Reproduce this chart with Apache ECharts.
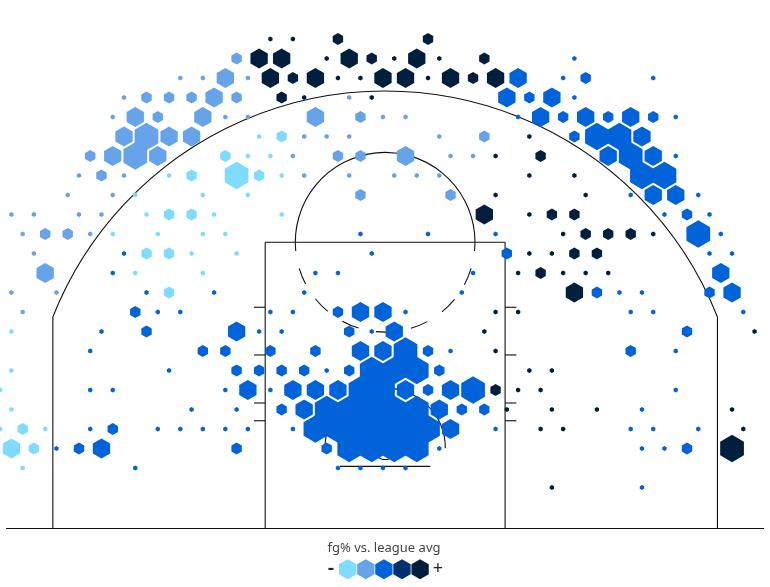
<!DOCTYPE html>
<html>
<head>
<meta charset="utf-8">
<style>
  html, body { margin: 0; padding: 0; background: #fff; }
  #chart { width: 770px; height: 587px; }
</style>
<script src="https://cdn.jsdelivr.net/npm/echarts@6/dist/echarts.min.js"></script>
</head>
<body>
<div id="chart"></div>
<script>
  // shot bins as [column, row, frequency level]; odd rows sit on even columns
  const fgCold = [
    [1,20,2],[-1,20,1],[3,20,1],[-1,18,1],[0,15,1],[0,17,1],[0,19,1],
    [0,21,3],[2,21,2],[1,22,1],
    [14,7,1],[16,7,2],[20,7,4],[22,7,2],[24,7,1],
    [19,6,2],[21,6,1],[23,6,1],
    [22,5,1],[24,5,2],
    [11,8,1],[17,8,1],[21,8,1],
    [12,9,1],[14,9,2],[16,9,2],[18,9,1],[24,9,1],
    [9,10,1],[13,10,1],[17,10,1],[19,10,1],
    [12,11,2],[14,11,2],[16,11,1],[20,11,1],
    [11,12,1],[17,12,1],[14,13,2]
  ];
  const fgBelow = [
    [20,1,2],
    [15,2,1],[17,2,1],[19,2,3],[21,2,1],
    [10,3,1],[12,3,2],[14,3,2],[16,3,2],[18,3,3],[20,3,2],[30,3,1],
    [9,4,1],[11,4,3],[13,4,2],[17,4,3],[19,4,1],[21,4,1],[27,4,3],[31,4,2],[33,4,1],[35,4,1],
    [10,5,3],[12,5,4],[14,5,3],[16,5,3],[26,5,1],[28,5,1],[30,5,1],[38,5,1],[42,5,2],
    [7,6,2],[9,6,3],[11,6,4],[13,6,3],[25,6,1],[29,6,2],[31,6,2],[35,6,3],[39,6,1],[41,6,1],
    [6,7,1],[8,7,2],[10,7,1],[26,7,1],[30,7,1],[34,7,1],[36,7,1],[38,7,1],
    [5,8,1],[9,8,1],[31,8,2],[39,8,2],
    [0,9,1],[2,9,1],[6,9,1],[8,9,1],
    [1,10,1],[3,10,2],[5,10,2],[7,10,1],
    [2,11,1],[3,12,3],[0,13,1],[4,13,1],[1,14,1]
  ];
  const fgAbove = [
    [50,1,1],
    [45,2,3],[49,2,1],[51,2,2],[57,2,1],
    [44,3,3],[46,3,2],[48,3,3],[50,3,1],
    [45,4,1],[47,4,3],[49,4,2],[51,4,3],[53,4,2],[55,4,3],[57,4,2],[59,4,1],
    [50,5,2],[52,5,4],[54,5,4],[56,5,3],
    [53,6,3],[55,6,4],[57,6,3],[59,6,1],
    [56,7,4],[58,7,4],
    [55,8,1],[57,8,3],[59,8,3],[61,8,1],
    [58,9,1],[60,9,2],[62,9,1],
    [31,10,1],[37,10,1],[43,10,1],[61,10,4],[63,10,1],
    [10,11,1],[32,11,1],[44,11,2],[62,11,1],[64,11,1],
    [9,12,1],[27,12,1],[29,12,1],[41,12,1],[63,12,3],
    [12,13,1],[18,13,1],[26,13,1],[40,13,1],[52,13,2],[54,13,1],[56,13,1],[62,13,2],[64,13,3],
    [11,14,2],[13,14,1],[15,14,1],[23,14,1],[25,14,1],[29,14,2],[31,14,3],[33,14,3],[35,14,1],[55,14,1],[57,14,1],[65,14,1],
    [8,15,1],[12,15,2],[20,15,3],[22,15,1],[24,15,1],[30,15,2],[32,15,1],[34,15,3],[60,15,2],
    [7,16,1],[17,16,2],[19,16,2],[23,16,2],[27,16,2],[31,16,3],[33,16,3],[35,16,4],[37,16,2],[39,16,1],[55,16,2],[59,16,1],
    [14,17,1],[20,17,2],[22,17,2],[24,17,2],[26,17,2],[28,17,1],[30,17,2],[32,17,4],[34,17,4],[36,17,4],[38,17,2],
    [7,18,1],[9,18,1],[19,18,1],[21,18,3],[23,18,1],[25,18,3],[27,18,3],[29,18,3],[31,18,4],[33,18,4],[35,18,3],[37,18,2],[39,18,3],[41,18,4],[59,18,1],
    [16,19,1],[20,19,1],[24,19,2],[26,19,3],[28,19,4],[30,19,4],[32,19,4],[34,19,4],[36,19,4],[38,19,3],[40,19,2],[42,19,2],[56,19,1],
    [7,20,1],[9,20,2],[13,20,1],[15,20,1],[17,20,1],[19,20,1],[21,20,1],[25,20,1],[27,20,4],[29,20,4],[31,20,4],[33,20,4],[35,20,4],[37,20,4],[39,20,3],[43,20,1],[55,20,1],[57,20,1],[61,20,1],
    [4,21,1],[6,21,2],[8,21,3],[20,21,2],[28,21,2],[30,21,4],[32,21,4],[34,21,4],[36,21,4],[38,21,1],[56,21,1],[58,21,1],[60,21,2],
    [11,22,1],[29,22,1],[31,22,1],[33,22,1],[35,22,1],
    [56,23,1]
  ];
  const fgHot = [
    [23,0,1],[25,0,1],[29,0,2],[37,0,2],
    [22,1,3],[24,1,3],[28,1,1],[30,1,3],[32,1,2],[34,1,1],[36,1,3],[38,1,1],[42,1,2],
    [23,2,3],[25,2,2],[27,2,3],[29,2,1],[31,2,1],[33,2,3],[35,2,3],[37,2,1],[39,2,3],[41,2,2],[43,2,3],
    [24,3,2],[26,3,1],[32,3,1],
    [46,5,1],
    [43,6,1],[47,6,2],
    [46,7,1],[50,7,1],
    [43,8,1],[51,8,1],
    [42,9,3],[46,9,1],[48,9,2],[50,9,2],
    [49,10,1],[51,10,2],[53,10,2],[55,10,2],[57,10,1],
    [46,11,1],[48,11,1],[50,11,2],[52,11,2],
    [45,12,1],[47,12,2],[49,12,1],[51,12,1],[53,12,1],
    [50,13,3],
    [43,14,1],[45,14,1],
    [42,15,1],[66,15,1],
    [43,16,1],
    [46,17,1],[48,17,1],
    [43,18,2],[45,18,1],[47,18,1],
    [44,19,1],[48,19,1],[52,19,1],[64,19,1],
    [47,20,1],[49,20,1],[65,20,1],
    [64,21,4],
    [48,23,1]
  ];
  const legendTitle = 'fg% vs. league avg';
  const legendColors = ['#7fdbff', '#66a3e8', '#0063d9', '#003070', '#001f3f'];
  const levelRadius = [0, 2.5, 6, 10, 13.7];

  // court in feet: baseline is y = 0, hoop on x = 0
  const hoopY = 5.33;
  const ftY = 19.02;
  const courtLines = [
    [-25.19, 0, 25.17, 0],
    [-22.08, 0, -22.08, 14.05],
    [22.08, 0, 22.08, 14.05],
    [-7.97, 0, -7.97, ftY],
    [7.97, 0, 7.97, ftY],
    [-7.97, ftY, 7.97, ftY],
    [-3, 4.13, 3, 4.13],
    [-8.71, 14.7, -7.97, 14.7],
    [-8.71, 11.53, -7.97, 11.53],
    [-8.71, 8.34, -7.97, 8.34],
    [-8.71, 7.16, -7.97, 7.16],
    [7.97, 14.7, 8.72, 14.7],
    [7.97, 11.53, 8.72, 11.53],
    [7.97, 8.34, 8.72, 8.34],
    [7.97, 7.16, 8.72, 7.16]
  ];
  // cx, cy, r, from deg, to deg, dashed
  const courtArcs = [
    [0, hoopY, 23.74, 201.55, 338.45, 0],
    [0, hoopY, 4, 180, 360, 0],
    [0, hoopY, 0.75, 0, 360, 0],
    [0, ftY, 5.97, 174.4, 365.6, 0],
    [0, ftY, 5.97, 16.9, 163.1, 1]
  ];

  const hexPath = 'path://M50 0L93.3 25L93.3 75L50 100L6.7 75L6.7 25Z';
  const lineColor = '#111';

  function hexSeries(data, color) {
    return {
      type: 'scatter',
      xAxisIndex: 0,
      yAxisIndex: 0,
      data: data,
      symbol: hexPath,
      symbolSize: function (val) {
        const r = levelRadius[val[2]];
        return [r * 1.732, r * 2];
      },
      itemStyle: { color: color, opacity: 1 },
      clip: false,
      silent: true,
      z: 3
    };
  }

  function legendHex(cx, cy, r, color) {
    const w = r * 0.866;
    return {
      type: 'polygon',
      shape: { points: [[cx, cy - r], [cx + w, cy - r / 2], [cx + w, cy + r / 2], [cx, cy + r], [cx - w, cy + r / 2], [cx - w, cy - r / 2]] },
      style: { fill: color }
    };
  }

  const chart = echarts.init(document.getElementById('chart'));
  chart.setOption({
    animation: false,
    backgroundColor: '#fff',
    grid: { left: 0, right: 0, top: 0, bottom: 0 },
    xAxis: [
      { type: 'value', show: false, min: -11.4 / 11.26, max: 758.6 / 11.26 },
      { type: 'value', show: false, min: -385.15 / 15.05, max: 384.85 / 15.05 }
    ],
    yAxis: [
      { type: 'value', show: false, inverse: true, min: -2, max: 548 / 19.5 },
      { type: 'value', show: false, min: -58.5 / 15.05, max: 528.5 / 15.05 }
    ],
    series: [
      {
        type: 'custom',
        xAxisIndex: 1,
        yAxisIndex: 1,
        data: courtLines,
        encode: { x: [0, 2], y: [1, 3] },
        silent: true,
        clip: false,
        z: 1,
        renderItem: function (params, api) {
          const a = api.coord([api.value(0), api.value(1)]);
          const b = api.coord([api.value(2), api.value(3)]);
          return {
            type: 'line',
            shape: { x1: a[0], y1: a[1], x2: b[0], y2: b[1] },
            style: { stroke: lineColor, lineWidth: 1.1, fill: null }
          };
        }
      },
      {
        type: 'custom',
        xAxisIndex: 1,
        yAxisIndex: 1,
        data: courtArcs,
        encode: { x: 0, y: 1 },
        silent: true,
        clip: false,
        z: 1,
        renderItem: function (params, api) {
          const c = api.coord([api.value(0), api.value(1)]);
          const r = api.size([api.value(2), 0])[0];
          return {
            type: 'arc',
            shape: {
              cx: c[0],
              cy: c[1],
              r: r,
              startAngle: api.value(3) * Math.PI / 180,
              endAngle: api.value(4) * Math.PI / 180,
              clockwise: true
            },
            style: {
              stroke: lineColor,
              lineWidth: 1.1,
              fill: null,
              lineDash: api.value(5) ? [17.67, 17.67] : null
            }
          };
        }
      },
      hexSeries(fgCold, legendColors[0]),
      hexSeries(fgBelow, legendColors[1]),
      hexSeries(fgAbove, legendColors[2]),
      hexSeries(fgHot, legendColors[4])
    ],
    graphic: [
      {
        type: 'text',
        style: { x: 384, y: 548.5, text: legendTitle, fill: '#444', font: '13px "Noto Sans"', textAlign: 'center', textVerticalAlign: 'middle' }
      },
      {
        type: 'text',
        style: { x: 331, y: 568.5, text: '-', fill: '#222', font: '600 20px "Noto Sans"', textAlign: 'center', textVerticalAlign: 'middle' }
      },
      {
        type: 'text',
        style: { x: 438, y: 568.5, text: '+', fill: '#222', font: '18px "Noto Sans"', textAlign: 'center', textVerticalAlign: 'middle' }
      }
    ].concat(legendColors.map(function (color, i) {
      return legendHex(347.7 + i * 18.1, 569.3, 10, color);
    }))
  });
</script>
</body>
</html>
